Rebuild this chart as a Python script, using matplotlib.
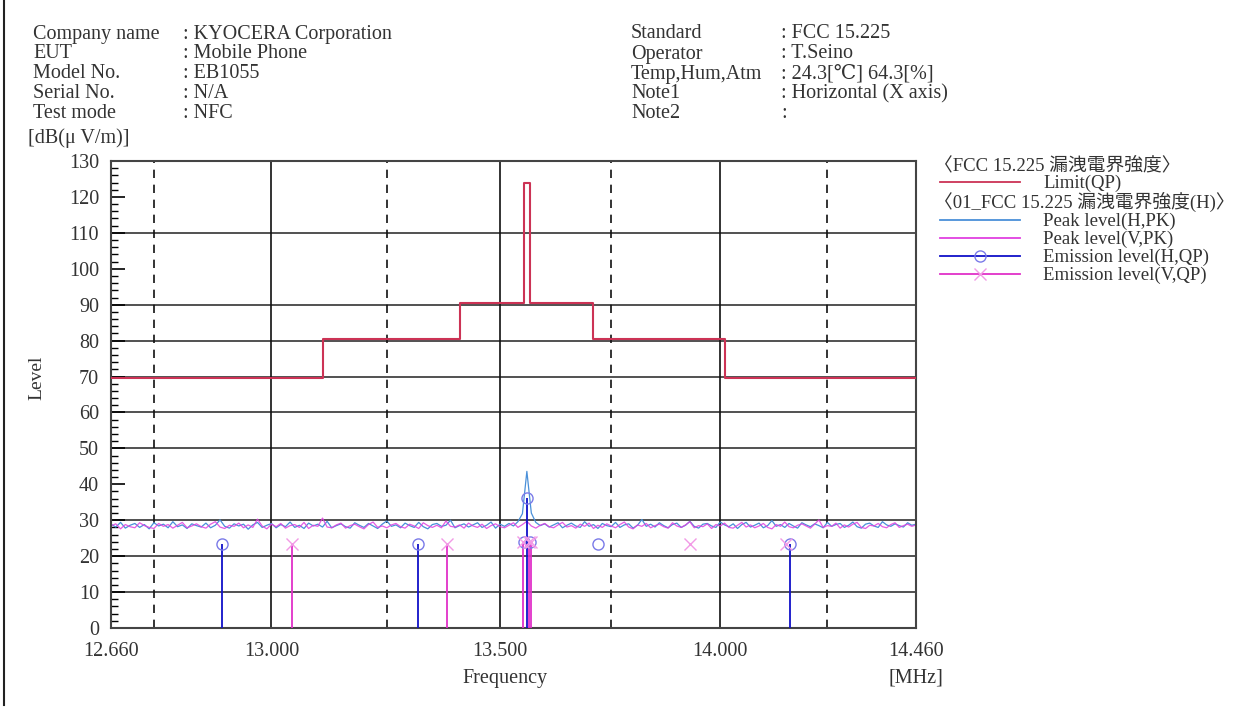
import numpy as np
import matplotlib
matplotlib.use("Agg")
import matplotlib.pyplot as plt
from matplotlib.lines import Line2D

plt.rcParams['font.family'] = ['Liberation Serif', 'DejaVu Serif', 'Noto Sans CJK JP']

# header info
info_left_keys = ["Company name", "EUT", "Model No.", "Serial No.", "Test mode"]
info_left_vals = [": KYOCERA Corporation", ": Mobile Phone", ": EB1055", ": N/A", ": NFC"]
info_right_keys = ["Standard", "Operator", "Temp,Hum,Atm", "Note1", "Note2"]
info_right_vals = [": FCC 15.225", ": T.Seino", ": 24.3[\u2103] 64.3[%]", ": Horizontal (X axis)", ":"]

# limit line (FCC 15.225), MHz / dB(uV/m)
limit_f = [12.66, 13.11, 13.41, 13.553, 13.567, 13.71, 14.01, 14.46]
limit_v = [69.5, 80.5, 90.5, 124.0, 90.5, 80.5, 69.5]

# peak sweep, 12.66 - 14.46 MHz, 0.01 MHz step
sweep_start = 12.66
sweep_stop = 14.46
sweep_n = 181
peak_h = [28.9, 28.1, 29.4, 27.8, 28.6, 29.1, 28.0, 28.8, 27.6, 29.3, 28.4, 28.9, 27.9, 29.6, 28.2, 28.7, 27.7, 29.0, 28.5, 28.1,
          29.2, 27.9, 28.6, 30.1, 28.3, 27.8, 29.0, 28.4, 28.9, 27.5, 28.7, 29.4, 28.0, 28.6, 29.1, 27.9, 28.8, 28.2, 29.5, 28.0,
          28.6, 27.7, 29.2, 28.4, 28.9, 28.1, 29.7, 27.9, 28.5, 29.0, 28.2, 27.8, 29.3, 28.6, 28.0, 29.1, 28.4, 27.7, 28.9, 29.8,
          28.3, 28.7, 27.9, 29.2, 28.5, 28.0, 29.4, 28.2, 27.6, 28.8, 29.1, 28.3, 28.6, 30.0, 27.9, 28.5, 29.0, 28.1, 28.7, 29.3,
          28.0, 28.6, 29.5, 27.8, 28.9, 28.3, 29.1, 28.4, 29.6, 31.8,
          43.6,
          32.0, 29.4, 28.5, 29.0, 28.1, 28.7, 29.3, 27.9, 28.6, 29.2,
          28.4, 28.0, 29.6, 28.3, 28.8, 27.7, 29.1, 28.5, 28.2, 29.4, 28.0, 28.7, 29.0, 27.8, 28.6, 30.2, 28.3, 28.9, 28.1, 29.3,
          28.5, 27.9, 28.8, 29.2, 28.0, 28.6, 29.7, 28.3, 27.8, 28.9, 29.1, 28.4, 28.0, 29.5, 28.7, 28.2, 29.0, 27.7, 28.8, 29.4,
          28.1, 28.6, 29.2, 27.9, 28.5, 29.9, 28.3, 28.8, 28.0, 29.1, 28.4, 27.8, 29.3, 28.7, 28.2, 29.0, 28.5, 27.9, 29.4, 28.3,
          28.8, 29.1, 28.0, 28.6, 29.5, 28.2, 27.8, 28.9, 29.2, 28.4, 28.0, 29.6, 28.7, 28.3, 29.0, 28.5, 28.1, 29.3, 28.6, 28.9]
peak_v = [28.4, 29.0, 27.6, 28.8, 28.2, 27.9, 29.3, 28.5, 28.0, 27.7, 29.1, 28.3, 28.8, 27.8, 28.6, 29.4, 27.9, 28.4, 29.0, 28.2,
          27.8, 28.9, 29.6, 28.1, 27.7, 28.6, 28.3, 29.2, 27.9, 28.7, 28.0, 30.3, 28.4, 27.6, 28.9, 28.2, 29.1, 27.8, 28.5, 28.8,
          28.0, 29.4, 27.7, 28.6, 28.3, 30.6, 28.1, 27.9, 28.7, 29.2, 27.8, 28.5, 28.9, 28.2, 27.6, 28.8, 29.5, 28.0, 28.4, 27.9,
          28.7, 29.1, 28.2, 27.8, 28.9, 28.4, 27.7, 29.3, 28.5, 28.0, 28.6, 27.9, 29.8, 28.3, 28.1, 28.7, 27.8, 29.2, 28.4, 28.0,
          28.9, 27.7, 28.5, 29.0, 28.2, 27.9, 28.6, 29.3, 28.0, 28.8, 29.7, 28.4, 27.8, 28.6, 29.1, 28.2, 27.9, 28.7, 29.4, 28.1,
          28.5, 27.8, 28.9, 28.3, 29.2, 27.7, 28.6, 28.0, 29.0, 28.4, 27.9, 28.8, 29.5, 28.1, 27.6, 28.7, 28.3, 29.1, 27.9, 28.5,
          28.9, 28.2, 27.8, 29.3, 28.4, 28.0, 28.7, 29.6, 27.9, 28.5, 28.2, 29.0, 27.7, 28.8, 28.4, 29.2, 28.0, 27.8, 28.6, 29.4,
          28.1, 28.7, 27.9, 28.4, 29.1, 28.0, 27.6, 28.8, 28.3, 29.5, 28.2, 27.9, 28.6, 29.0, 28.4, 27.8, 28.9, 30.1, 28.0, 28.5,
          28.3, 29.2, 27.8, 28.7, 28.1, 28.9, 29.4, 28.0, 27.7, 28.6, 28.4, 29.1, 28.2, 27.9, 28.8, 29.3, 28.0, 28.5, 28.9, 28.3, 28.7]

# QP emission points
qp_h_freq = [12.895, 13.318, 13.553, 13.560, 13.567, 13.721, 14.163]
qp_h_level = [23.4, 23.4, 24.0, 36.1, 24.0, 23.5, 23.5]
qp_h_stem = [True, True, False, True, False, False, True]
qp_v_freq = [13.045, 13.382, 13.552, 13.565, 13.569, 13.930, 14.152]
qp_v_level = [23.3, 23.3, 24.0, 24.0, 24.0, 23.5, 23.5]
qp_v_stem = [True, True, True, True, True, False, False]

xtick_vals = [12.66, 13.0, 13.5, 14.0, 14.46]
xtick_labels = ["12.660", "13.000", "13.500", "14.000", "14.460"]
xgrid_solid = [13.0, 13.5, 14.0]
xgrid_dash = [12.75, 13.25, 13.75, 14.25]
ygrid = [10, 20, 30, 50, 60, 70, 80, 90, 110]

legend_items = ["Limit(QP)", "Peak level(H,PK)", "Peak level(V,PK)",
                "Emission level(H,QP)", "Emission level(V,QP)"]

c_text = '#333333'
c_limit = '#cc3355'
c_pk_h = '#4a90d9'
c_pk_v = '#e040e0'
c_qp_h = '#1010c8'
c_qp_h_mk = '#7a7ae8'
c_qp_v = '#e030c8'
c_qp_v_mk = '#f29ae6'
fs = 14.5
fs_leg = 13.5

W, H = 1253, 708
fig = plt.figure(figsize=(W / 100, H / 100), dpi=100)

def fx(px):
    return px / W

def fy(py):
    return 1 - py / H

ax = fig.add_axes([fx(111), fy(628), fx(916) - fx(111), fy(161) - fy(628)])

freq = np.linspace(sweep_start, sweep_stop, sweep_n)

# grid
for y in ygrid:
    ax.axhline(y, color='#333333', lw=1.2, zorder=1)
for x in xgrid_solid:
    ax.axvline(x, color='#111111', lw=1.2, zorder=1)
for x in xgrid_dash:
    ax.axvline(x, color='#111111', lw=1.2, dashes=(5, 4), zorder=1)

# limit
ax.step(limit_f, limit_v + [limit_v[-1]], where='post', color=c_limit, lw=1.5, zorder=4)

# peak traces
ax.plot(freq, peak_h, color=c_pk_h, lw=0.9, zorder=2)
ax.plot(freq, peak_v, color=c_pk_v, lw=0.9, zorder=2, alpha=0.85)

# QP points with stems
for f, v, s in zip(qp_h_freq, qp_h_level, qp_h_stem):
    if s:
        ax.vlines(f, 0, v, color=c_qp_h, lw=1.3, zorder=5)
for f, v, s in zip(qp_v_freq, qp_v_level, qp_v_stem):
    if s:
        ax.vlines(f, 0, v, color=c_qp_v, lw=1.3, zorder=5)
ax.plot(qp_h_freq, qp_h_level, 'o', ms=8, mfc='none', mec=c_qp_h_mk, mew=1.0, zorder=6)
ax.plot(qp_v_freq, qp_v_level, 'x', ms=9, mec=c_qp_v_mk, mew=1.0, zorder=6)

ax.set_xscale('log')
ax.set_xlim(sweep_start, sweep_stop)
ax.set_ylim(0, 130)
ax.set_xticks(xtick_vals)
ax.set_xticklabels(xtick_labels)
ax.xaxis.set_minor_locator(matplotlib.ticker.NullLocator())
ax.tick_params(axis='x', length=0, pad=10, labelsize=fs, labelcolor=c_text)
ax.set_yticks(np.arange(0, 131, 10))
ax.set_yticks(np.arange(0, 131, 2), minor=True)
ax.tick_params(axis='y', which='major', direction='in', length=10, width=1.2,
               labelsize=fs, labelcolor=c_text, pad=8.5)
ax.tick_params(axis='y', which='minor', direction='in', length=5, width=1.0)
for sp in ax.spines.values():
    sp.set_color('#444444')
    sp.set_linewidth(1.5)

# axis labels
fig.text(fx(505), fy(679), "Frequency", ha='center', va='center', fontsize=fs, color=c_text)
fig.text(fx(916), fy(678), "[MHz]", ha='center', va='center', fontsize=fs, color=c_text)
fig.text(fx(37), fy(378), "Level", ha='center', va='center', rotation=90, fontsize=14, color=c_text)
fig.text(fx(28), fy(138), "[dB(\u03bc V/m)]", ha='left', va='center', fontsize=fs, color=c_text)

# header (baseline aligned rows)
for i in range(5):
    yy = fy(32 + i * 20 + 6.5)
    fig.text(fx(33), yy, info_left_keys[i], ha='left', va='baseline', fontsize=fs, color=c_text)
    fig.text(fx(183), yy, info_left_vals[i], ha='left', va='baseline', fontsize=fs, color=c_text)
    fig.text(fx(631), yy, info_right_keys[i], ha='left', va='baseline', fontsize=fs, color=c_text)
    fig.text(fx(781), yy, info_right_vals[i], ha='left', va='baseline', fontsize=fs, color=c_text)

# legend
fig.text(fx(934), fy(164 + 6), "\u3008FCC 15.225 漏洩電界強度\u3009", ha='left', va='baseline',
         fontsize=fs_leg, color=c_text)
fig.text(fx(934), fy(202 + 6), "\u300801_FCC 15.225 漏洩電界強度(H)\u3009", ha='left', va='baseline',
         fontsize=fs_leg, color=c_text)
leg_y = [182, 220, 238, 256, 274]
leg_col = [c_limit, c_pk_h, c_pk_v, c_qp_h, c_qp_v]
for i in range(5):
    yy = fy(leg_y[i])
    fig.add_artist(Line2D([fx(940), fx(1020)], [yy, yy], color=leg_col[i], lw=1.3))
    fig.text(fx(1043), fy(leg_y[i] + 6), legend_items[i], ha='left', va='baseline',
             fontsize=fs_leg, color=c_text)
fig.add_artist(Line2D([fx(980)], [fy(256)], marker='o', ms=8, mfc='none', mec=c_qp_h_mk, mew=1.0))
fig.add_artist(Line2D([fx(980)], [fy(274)], marker='x', ms=9, mec=c_qp_v_mk, mew=1.0))

# page border
fig.add_artist(Line2D([fx(4), fx(4)], [fy(0), fy(705)], color='#222222', lw=1.5))

fig.savefig("out.png", dpi=100)
